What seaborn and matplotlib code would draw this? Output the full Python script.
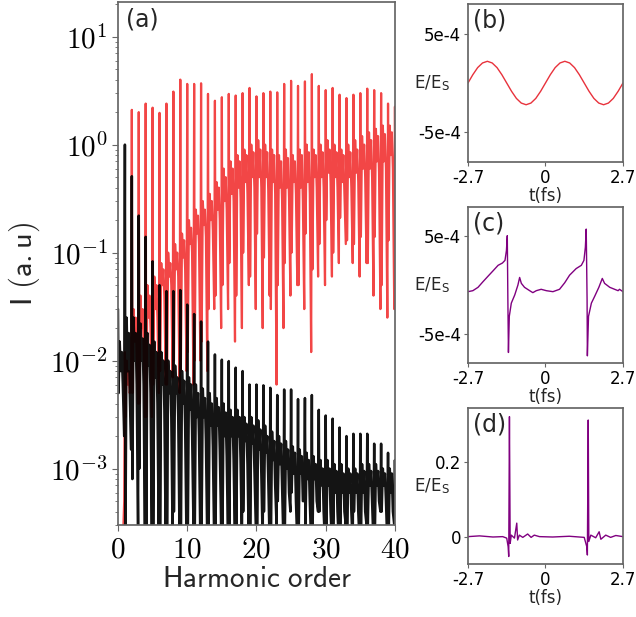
import matplotlib
matplotlib.use("Agg")
import matplotlib.pyplot as plt
import matplotlib.ticker as mticker
import numpy as np
import pandas as pd
import seaborn as sns

# ---- panel (a): harmonic spectra, values per harmonic (h = 0..40) ----
harmonic = list(range(41))

red_peak = [1e-4, 0.012, 2.1, 2.0, 2.4, 2.2, 1.97, 2.4, 3.1, 4.0,
            3.65, 3.65, 3.7, 2.95, 2.55, 2.75, 2.95, 2.85, 3.0, 3.35,
            2.8, 3.0, 3.1, 3.05, 3.65, 3.9, 3.5, 3.85, 4.5, 3.5,
            3.2, 3.35, 2.9, 2.7, 2.9, 3.0, 3.3, 3.2, 3.0, 2.4, 2.25]
red_dip_a = [1e-4, 0.003, 0.005, 0.004, 0.003, 0.006, 0.008, 0.006, 0.01, 0.008,
             0.012, 0.01, 0.015, 0.03, 0.04, 0.05, 0.08, 0.04, 0.1, 0.06,
             0.15, 0.09, 0.03, 0.05, 0.08, 0.1, 0.05, 0.15, 0.07, 0.12,
             0.2, 0.1, 0.21, 0.13, 0.12, 0.14, 0.08, 0.14, 0.05, 0.13, 0.2]
red_hi = [1e-4, 0.01, 0.03, 0.04, 0.05, 0.06, 0.08, 0.1, 0.12, 0.15,
          0.2, 0.25, 0.3, 0.35, 0.45, 0.6, 0.7, 0.8, 0.9, 1.0,
          1.1, 1.0, 0.9, 0.8, 0.9, 0.8, 0.9, 1.0, 0.9, 1.0,
          1.1, 1.0, 0.9, 1.0, 1.1, 1.2, 1.3, 1.4, 1.5, 1.5, 1.4]
red_lo = [2e-4, 0.006, 0.015, 0.02, 0.025, 0.03, 0.05, 0.06, 0.07, 0.09,
          0.12, 0.15, 0.18, 0.2, 0.25, 0.3, 0.35, 0.4, 0.45, 0.5,
          0.5, 0.5, 0.45, 0.4, 0.4, 0.45, 0.4, 0.45, 0.5, 0.5,
          0.55, 0.5, 0.45, 0.5, 0.55, 0.6, 0.6, 0.7, 0.7, 0.8, 0.7]
red_hi2 = [1e-4, 0.008, 0.025, 0.03, 0.04, 0.05, 0.07, 0.08, 0.1, 0.13,
           0.17, 0.22, 0.25, 0.3, 0.4, 0.5, 0.6, 0.7, 0.8, 0.85,
           0.9, 0.85, 0.8, 0.7, 0.75, 0.7, 0.8, 0.85, 0.8, 0.85,
           0.9, 0.85, 0.8, 0.85, 0.9, 1.0, 1.1, 1.2, 1.25, 1.3, 1.2]
red_lo2 = [2e-4, 0.005, 0.012, 0.015, 0.02, 0.025, 0.04, 0.05, 0.06, 0.07,
           0.1, 0.12, 0.14, 0.16, 0.2, 0.25, 0.3, 0.32, 0.35, 0.4,
           0.4, 0.38, 0.35, 0.3, 0.32, 0.35, 0.3, 0.35, 0.4, 0.4,
           0.45, 0.4, 0.35, 0.4, 0.45, 0.5, 0.5, 0.55, 0.6, 0.6, 0.6]
red_dip_b = [5e-4, 0.006, 0.004, 0.003, 0.003, 0.005, 0.006, 0.007, 0.005, 0.008,
             0.006, 0.01, 0.008, 0.03, 0.02, 0.03, 0.015, 0.02, 0.05, 0.03,
             0.02, 0.04, 0.006, 0.02, 0.04, 0.05, 0.03, 0.012, 0.06, 0.05,
             0.06, 0.08, 0.12, 0.08, 0.06, 0.08, 0.04, 0.03, 0.025, 0.03, 0.2]

black_peak = [0.03, 1.0, 0.51, 0.22, 0.14, 0.083, 0.05, 0.044, 0.044, 0.045,
              0.033, 0.027, 0.023, 0.015, 0.0114, 0.0102, 0.0099, 0.0086, 0.008, 0.006,
              0.006, 0.0059, 0.0056, 0.0048, 0.0054, 0.0054, 0.0044, 0.0045, 0.0048, 0.0035,
              0.0031, 0.0029, 0.0024, 0.002, 0.0021, 0.0021, 0.0021, 0.0017, 0.0017, 0.0014, 0.0012]
black_dip_a = [0.005, 2e-4, 8e-4, 1e-3, 2e-4, 2e-4, 3e-4, 2e-4, 4e-4, 2e-4,
               2e-4, 2e-4, 3e-4, 2e-4, 2e-4, 2e-4, 3e-4, 2e-4, 4e-4, 2e-4,
               2e-4, 4e-4, 2e-4, 5e-4, 2e-4, 6e-4, 2e-4, 3e-4, 2e-4, 4e-4,
               2e-4, 3e-4, 2e-4, 2e-4, 4e-4, 2e-4, 3e-4, 2e-4, 4e-4, 2e-4, 4e-4]
black_hi = [0.015, 0.025, 0.025, 0.022, 0.018, 0.015, 0.012, 0.01, 0.009, 0.008,
            0.007, 0.006, 0.0055, 0.005, 0.0045, 0.004, 0.0035, 0.0035, 0.003, 0.003,
            0.0028, 0.0025, 0.0022, 0.002, 0.0018, 0.0016, 0.0015, 0.0014, 0.0013, 0.0012,
            0.0012, 0.0011, 0.0011, 0.001, 0.001, 0.0011, 0.0011, 0.0011, 0.001, 0.001, 0.001]
black_lo = [0.008, 0.008, 0.01, 0.01, 0.009, 0.007, 0.006, 0.005, 0.005, 0.004,
            0.0035, 0.003, 0.003, 0.0025, 0.0025, 0.002, 0.002, 0.002, 0.0018, 0.0017,
            0.0015, 0.0014, 0.0012, 0.0011, 0.001, 0.0009, 0.0009, 0.0008, 0.0008, 0.0007,
            0.0007, 0.0006, 0.0006, 0.0006, 0.0006, 0.0006, 0.0007, 0.0007, 0.0007, 0.0006, 0.0006]
black_hi2 = [0.012, 0.018, 0.018, 0.016, 0.014, 0.012, 0.01, 0.008, 0.007, 0.0065,
             0.006, 0.005, 0.0045, 0.004, 0.0037, 0.0033, 0.003, 0.003, 0.0026, 0.0025,
             0.0023, 0.002, 0.0018, 0.0017, 0.0015, 0.0014, 0.0013, 0.0012, 0.0011, 0.001,
             0.001, 0.00095, 0.0009, 0.0009, 0.0009, 0.00095, 0.00095, 0.00095, 0.0009, 0.0009, 0.0009]
black_lo2 = [0.006, 0.005, 0.006, 0.006, 0.005, 0.004, 0.0035, 0.003, 0.003, 0.0025,
             0.0022, 0.002, 0.0018, 0.0016, 0.0015, 0.0013, 0.0012, 0.0012, 0.0011, 0.001,
             0.0009, 0.0008, 0.0007, 0.0007, 0.0006, 0.0005, 0.0005, 0.0005, 0.0005, 0.0004,
             0.0004, 0.0004, 0.0004, 0.0004, 0.0004, 0.0004, 0.0005, 0.0005, 0.0005, 0.0004, 0.0004]
black_dip_b = [0.002, 0.0015, 3e-4, 2e-4, 2e-4, 2e-4, 2e-4, 2e-4, 2e-4, 2e-4,
               3e-4, 2e-4, 2e-4, 2e-4, 3e-4, 2e-4, 2e-4, 2e-4, 2e-4, 3e-4,
               2e-4, 2e-4, 3e-4, 2e-4, 4e-4, 2e-4, 5e-4, 2e-4, 4e-4, 2e-4,
               2e-4, 2e-4, 3e-4, 2e-4, 2e-4, 3e-4, 2e-4, 4e-4, 2e-4, 3e-4, 4e-4]

# sub-harmonic positions: peak, dip, high, low, high, low, dip
sub_offsets = [0.0, 0.08, 0.25, 0.4, 0.55, 0.7, 0.9]

# ---- panel (b): driving field (units of 1e-4) ----
t_b = np.linspace(-2.7, 2.7, 33)
e_b = [0, 0.84, 1.56, 2.03, 2.2, 2.03, 1.56, 0.84, 0, -0.84, -1.56, -2.03, -2.2,
       -2.03, -1.56, -0.84, 0, 0.84, 1.56, 2.03, 2.2, 2.03, 1.56, 0.84, 0,
       -0.84, -1.56, -2.03, -2.2, -2.03, -1.56, -0.84, 0]

# ---- panel (c): reflected field (units of 1e-4) ----
t_c = [-2.7, -2.53, -2.35, -2.18, -2.0, -1.83, -1.65, -1.5, -1.41, -1.36, -1.33,
       -1.31, -1.29, -1.26, -1.19, -1.07, -0.96, -0.9, -0.84, -0.73, -0.55, -0.44,
       -0.32, -0.15, 0.03, 0.26, 0.49, 0.67, 0.84, 1.07, 1.25, 1.34, 1.39, 1.42,
       1.45, 1.46, 1.5, 1.6, 1.71, 1.86, 1.98, 2.06, 2.24, 2.41, 2.53, 2.58, 2.7]
e_c = [-0.67, -0.57, -0.23, 0.33, 0.9, 1.43, 2.0, 2.23, 2.5, 3.5, 5.0,
       -1.5, -6.83, -3.17, -1.83, -1.0, 0.0, 0.77, 0.17, -0.23, -0.57, -0.77,
       -0.57, -0.43, -0.57, -0.67, -0.43, 0.23, 1.0, 1.67, 2.0, 2.5, 3.83, 5.67,
       -1.5, -7.17, -3.17, -1.83, -1.17, -0.23, 0.67, 0.17, -0.23, -0.43, -0.57, -0.43, -0.67]

# ---- panel (d): filtered field ----
t_d = [-2.7, -2.3, -1.83, -1.49, -1.35, -1.3, -1.28, -1.255, -1.23, -1.19, -1.08,
       -1.0, -0.97, -0.91, -0.79, -0.62, -0.5, -0.39, -0.21, 0.25, 0.83, 1.35,
       1.44, 1.46, 1.49, 1.51, 1.58, 1.75, 1.87, 1.93, 2.1, 2.27, 2.45, 2.7]
e_d = [0, 0.002, -0.001, 0, -0.004, -0.027, -0.053, 0.32, -0.018, 0.004, -0.004,
       0.036, -0.009, 0.004, -0.002, 0.007, -0.002, 0.004, 0, -0.001, 0.001, -0.002,
       -0.027, -0.049, 0.311, -0.013, 0.004, -0.003, 0.013, -0.007, 0.004, -0.002, 0.003, 0]


def spectrum_frame(*levels):
    x = (np.array(harmonic)[:, None] + np.array(sub_offsets)[None, :]).ravel()
    y = np.column_stack(levels).ravel()
    return pd.DataFrame({"order": x, "I": y})


sns.set_theme(style="ticks")
plt.rcParams["font.family"] = ["DejaVu Sans"]
plt.rcParams["mathtext.fontset"] = "cm"
plt.rcParams["axes.edgecolor"] = "#666666"
plt.rcParams["xtick.color"] = "#666666"
plt.rcParams["ytick.color"] = "#666666"
plt.rcParams["xtick.labelcolor"] = "black"
plt.rcParams["ytick.labelcolor"] = "black"

fig = plt.figure(figsize=(6.36, 6.17), dpi=100)

ax = fig.add_axes([0.1855, 0.149, 0.4355, 0.848])
red_df = spectrum_frame(red_peak, red_dip_a, red_hi, red_lo, red_hi2, red_lo2, red_dip_b)
black_df = spectrum_frame(black_peak, black_dip_a, black_hi, black_lo, black_hi2,
                          black_lo2, black_dip_b)
sns.lineplot(data=red_df, x="order", y="I", ax=ax, color="#f24646", lw=1.6,
             estimator=None, sort=False)
sns.lineplot(data=black_df, x="order", y="I", ax=ax, color="black", lw=1.8,
             alpha=0.92, estimator=None, sort=False)
ax.set_yscale("log")
ax.set_xlim(0, 40)
ax.set_ylim(3e-4, 21)
ax.set_xticks([0, 10, 20, 30, 40])
ax.xaxis.set_major_formatter(mticker.FuncFormatter(lambda v, p: r"$%d$" % v))
ax.yaxis.set_major_locator(mticker.LogLocator(base=10, numticks=10))
ax.yaxis.set_major_formatter(mticker.FuncFormatter(
    lambda v, p: r"$10^{%d}$" % round(np.log10(v))))
ax.tick_params(axis="both", which="major", labelsize=21, length=4, width=0.8)
ax.tick_params(axis="y", which="minor", length=2, width=0.6)
ax.set_xlabel(r"$\mathsf{Harmonic\ order}$", fontsize=21, labelpad=1)
ax.set_ylabel(r"$\mathsf{I\ (a.u)}$", fontsize=22, labelpad=6)
ax.text(0.03, 0.99, "(a)", transform=ax.transAxes, fontsize=17,
        va="top", ha="left")

right_boxes = [[0.7358, 0.7374, 0.2437, 0.2561],
               [0.7358, 0.4116, 0.2437, 0.2528],
               [0.7358, 0.0859, 0.2437, 0.2528]]
panels = [("(b)", t_b, np.array(e_b) * 1e-4, "#e8323c", (-8e-4, 8e-4)),
          ("(c)", t_c, np.array(e_c) * 1e-4, "purple", (-7.9e-4, 7.9e-4)),
          ("(d)", t_d, np.array(e_d), "purple", (-0.073, 0.343))]

for box, (tag, t, e, col, ylim) in zip(right_boxes, panels):
    axr = fig.add_axes(box)
    sns.lineplot(x=t, y=e, ax=axr, color=col, lw=1.0, estimator=None, sort=False)
    axr.set_xlim(-2.7, 2.7)
    axr.set_ylim(*ylim)
    axr.set_xticks([-2.7, 0, 2.7])
    axr.set_xticklabels(["-2.7", "0", "2.7"])
    if tag == "(d)":
        axr.set_yticks([0, 0.2])
        axr.set_yticklabels(["0", "0.2"])
    else:
        axr.set_yticks([-5e-4, 5e-4])
        axr.set_yticklabels(["-5e-4", "5e-4"])
    axr.tick_params(labelsize=12, length=3, width=0.8, pad=2)
    axr.set_xlabel("t(fs)", fontsize=12, labelpad=0)
    axr.set_ylabel(r"E/E$_\mathregular{S}$", fontsize=12, rotation=0,
                   ha="center", va="center")
    axr.yaxis.set_label_coords(-0.23, 0.5)
    axr.text(0.03, 0.97, tag, transform=axr.transAxes, fontsize=17,
             va="top", ha="left")

fig.savefig("out.png", dpi=100)
